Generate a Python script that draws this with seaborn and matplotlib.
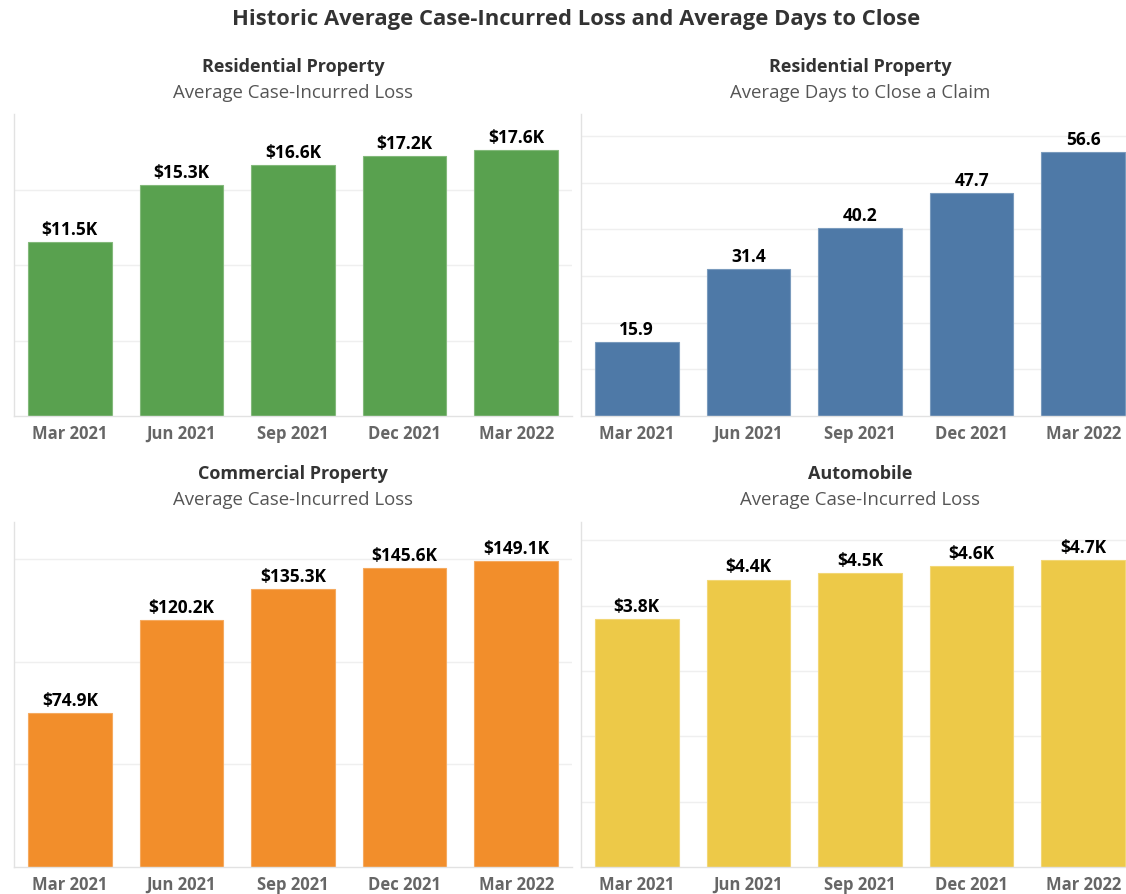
import numpy as np
import pandas as pd
import matplotlib
matplotlib.use("Agg")
import matplotlib.pyplot as plt
import matplotlib.colors as mcolors
import seaborn as sns

# data
quarters = ["Mar 2021", "Jun 2021", "Sep 2021", "Dec 2021", "Mar 2022"]
res_loss = [11.5, 15.3, 16.6, 17.2, 17.6]       # $K
res_days = [15.9, 31.4, 40.2, 47.7, 56.6]       # days
com_loss = [74.9, 120.2, 135.3, 145.6, 149.1]   # $K
auto_loss = [3.8, 4.4, 4.5, 4.6, 4.7]           # $K

sns.set_theme(style="white")
plt.rcParams['font.family'] = ['Open Sans', 'DejaVu Sans']

W, H = 1126, 895
fig = plt.figure(figsize=(W / 100, H / 100), dpi=100)
fig.patch.set_facecolor("white")


def px_axes(left, top, right, bottom):
    # pixel box -> figure fractions
    return fig.add_axes([left / W, 1 - bottom / H, (right - left) / W, (bottom - top) / H])


def lighten(c, amt=0.25):
    r, g, b = mcolors.to_rgb(c)
    return (r + (1 - r) * amt, g + (1 - g) * amt, b + (1 - b) * amt)


def draw_panel(ax, values, color, ymax, step, fmt):
    df = pd.DataFrame({"quarter": quarters, "value": values})
    sns.barplot(data=df, x="quarter", y="value", color=color, width=0.75,
                edgecolor=lighten(color), linewidth=0.8, saturation=1, ax=ax)
    ax.set_xlim(-0.5, 4.5)
    ax.set_ylim(0, ymax)
    ax.set_yticks(np.arange(step, ymax, step))
    ax.yaxis.grid(True, color="#efefef", lw=1)
    ax.set_axisbelow(True)
    ax.tick_params(axis="y", left=False, labelleft=False)
    ax.set_xticks(range(len(quarters)))
    ax.set_xticklabels(quarters, fontsize=12, fontweight="bold", color="#666666")
    # baseline-aligned so the descending J of "Jun" doesn't push it down
    for lab in ax.get_xticklabels():
        lab.set_va("baseline")
    ax.tick_params(axis="x", which="major", length=0, pad=15.8)
    ax.set_xticks(np.arange(-0.5, 5, 1), minor=True)
    ax.tick_params(axis="x", which="minor", length=5, color="#e2e2e2", width=1)
    ax.set_xlabel("")
    ax.set_ylabel("")
    for s in ["top", "right"]:
        ax.spines[s].set_visible(False)
    for s in ["left", "bottom"]:
        ax.spines[s].set_color("#e2e2e2")
        ax.spines[s].set_linewidth(1)
    ax.bar_label(ax.containers[0], labels=[fmt(v) for v in values], padding=3,
                 fontsize=12.5, fontweight="bold", color="black")


money = lambda v: f"${v:.1f}K"
days = lambda v: f"{v:.1f}"

ax1 = px_axes(14, 115, 572, 417)
ax2 = px_axes(581, 115, 1139, 417)
ax3 = px_axes(14, 523, 572, 868)
ax4 = px_axes(581, 523, 1139, 868)

draw_panel(ax1, res_loss, "#59A14F", 20, 5, money)
draw_panel(ax2, res_days, "#4E79A7", 64.7, 10, days)
draw_panel(ax3, com_loss, "#F28E2B", 168, 50, money)
draw_panel(ax4, auto_loss, "#EDC948", 5.28, 1, money)

fig.text(576 / W, 1 - 20 / H, "Historic Average Case-Incurred Loss and Average Days to Close",
         ha="center", va="center", fontsize=15.8, fontweight="bold", color="#333333")

heads = [
    (293, 67, "Residential Property", "Average Case-Incurred Loss"),
    (860, 67, "Residential Property", "Average Days to Close a Claim"),
    (293, 474, "Commercial Property", "Average Case-Incurred Loss"),
    (860, 474, "Automobile", "Average Case-Incurred Loss"),
]
for x, y, t1, t2 in heads:
    fig.text(x / W, 1 - y / H, t1, ha="center", va="center", fontsize=13,
             fontweight="bold", color="#333333")
    fig.text(x / W, 1 - (y + 26) / H, t2, ha="center", va="center", fontsize=13.4,
             color="#555555")

fig.savefig("out.png", dpi=100, facecolor="white")
